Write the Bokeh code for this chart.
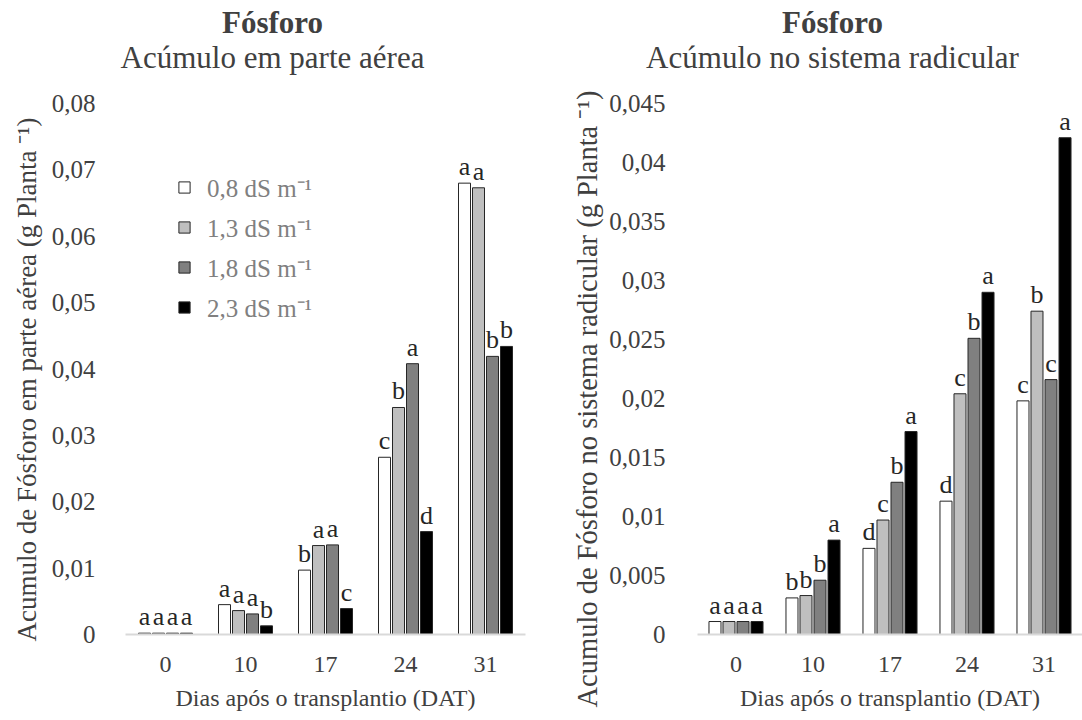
from bokeh.plotting import figure
from bokeh.models import FactorRange, Range1d, FixedTicker, Title, Label, ColumnDataSource
from bokeh.transform import dodge
from bokeh.layouts import row, column
from bokeh.embed import file_html
from bokeh.resources import INLINE
from bokeh.core.properties import value

# ---- data -------------------------------------------------------------
days = ["0", "10", "17", "24", "31"]
series_labels = ["0,8 dS m⁻¹", "1,3 dS m⁻¹", "1,8 dS m⁻¹", "2,3 dS m⁻¹"]

# shoot (parte aérea) phosphorus accumulation, g per plant
aerea_08 = [0.0002, 0.0045, 0.0097, 0.0267, 0.0680]
aerea_13 = [0.0002, 0.0036, 0.0134, 0.0342, 0.0673]
aerea_18 = [0.0002, 0.0031, 0.0135, 0.0408, 0.0419]
aerea_23 = [0.0002, 0.0013, 0.0039, 0.0155, 0.0434]
aerea_let_08 = ["a", "a", "b", "c", "a"]
aerea_let_13 = ["a", "a", "a", "b", "a"]
aerea_let_18 = ["a", "a", "a", "a", "b"]
aerea_let_23 = ["a", "b", "c", "d", "b"]

# root (sistema radicular) phosphorus accumulation, g per plant
radic_08 = [0.0011, 0.0031, 0.0073, 0.0113, 0.0198]
radic_13 = [0.0011, 0.0033, 0.0097, 0.0204, 0.0274]
radic_18 = [0.0011, 0.0046, 0.0129, 0.0251, 0.0216]
radic_23 = [0.0011, 0.0080, 0.0172, 0.0290, 0.0421]
radic_let_08 = ["a", "b", "d", "d", "c"]
radic_let_13 = ["a", "b", "c", "c", "b"]
radic_let_18 = ["a", "b", "b", "b", "c"]
radic_let_23 = ["a", "a", "a", "a", "a"]

aerea_ticks = ["0", "0,01", "0,02", "0,03", "0,04", "0,05", "0,06", "0,07", "0,08"]
radic_ticks = ["0", "0,005", "0,01", "0,015", "0,02", "0,025", "0,03", "0,035", "0,04", "0,045"]

# ---- style ------------------------------------------------------------
FONT = "Liberation Serif"
TXT = "#404040"
fills = ["#ffffff", "#bfbfbf", "#808080", "#000000"]
HEAD_H = 90      # height of the heading strip
CHART_H = 630    # height of each chart below it


def panel(width, left_border, right_border, top_border, bottom_border, ymax,
          tick_labels, series, letters, step, bar_w, tick_standoff,
          ylabel, ylabel_size, ylabel_offset, ylabel_standoff, with_legend):
    p = figure(width=width, height=CHART_H, output_backend="svg", toolbar_location=None,
               x_range=FactorRange(factors=days, range_padding=0),
               y_range=Range1d(0, ymax),
               min_border_left=left_border, min_border_right=right_border,
               min_border_top=top_border, min_border_bottom=bottom_border,
               background_fill_color="white", border_fill_color="white")
    p.outline_line_color = None
    p.xgrid.grid_line_color = None
    p.ygrid.grid_line_color = None

    data = {"day": days}
    for i, (vals, lets) in enumerate(zip(series, letters)):
        data[f"v{i}"] = vals
        data[f"l{i}"] = lets
    src = ColumnDataSource(data)

    offsets = [(-1.5 + i) * step for i in range(4)]
    for i in range(4):
        kw = {}
        if with_legend:
            kw["legend_label"] = series_labels[i]
        p.vbar(x=dodge("day", offsets[i], range=p.x_range), top=f"v{i}", width=bar_w,
               source=src, fill_color=fills[i], line_color="#262626", line_width=1, **kw)
        p.text(x=dodge("day", offsets[i], range=p.x_range), y=f"v{i}", text=f"l{i}",
               source=src, text_align="center", text_baseline="bottom", y_offset=-2,
               text_font=value(FONT), text_font_size="26px", text_color="#262626")

    tick_vals = [float(t.replace(",", ".")) for t in tick_labels]
    yax = p.yaxis[0]
    yax.ticker = FixedTicker(ticks=tick_vals)
    yax.major_label_overrides = dict(zip(tick_vals, tick_labels))
    yax.axis_line_color = None
    yax.major_tick_line_color = None
    yax.minor_tick_line_color = None
    yax.major_label_standoff = tick_standoff
    yax.major_label_text_font = FONT
    yax.major_label_text_font_size = "25px"
    yax.major_label_text_color = TXT

    xax = p.xaxis[0]
    xax.axis_line_color = "#d9d9d9"
    xax.axis_line_width = 2
    xax.major_tick_line_color = None
    xax.minor_tick_line_color = None
    xax.major_label_standoff = 16
    xax.major_label_text_font = FONT
    xax.major_label_text_font_size = "24px"
    xax.major_label_text_color = TXT
    xax.axis_label = "Dias após o transplantio (DAT)"
    xax.axis_label_text_font = FONT
    xax.axis_label_text_font_size = "24px"
    xax.axis_label_text_font_style = "normal"
    xax.axis_label_text_color = TXT
    xax.axis_label_standoff = 10

    # value-axis title, read bottom to top
    p.add_layout(Title(text=ylabel, align="left", offset=ylabel_offset, text_font=FONT,
                       text_font_size=ylabel_size, text_font_style="normal",
                       text_color=TXT, standoff=ylabel_standoff), "left")

    if with_legend:
        lg = p.legend[0]
        lg.location = (52, 310)
        lg.border_line_color = None
        lg.background_fill_alpha = 0
        lg.padding = 0
        lg.margin = 0
        lg.spacing = 6
        lg.glyph_width = 14
        lg.glyph_height = 14
        lg.label_standoff = 16
        lg.label_text_font = FONT
        lg.label_text_font_size = "25px"
        lg.label_text_color = "#808080"
        lg.label_height = 25
    return p


left = panel(560, 125, 35, 12, 86, 0.08, aerea_ticks,
             [aerea_08, aerea_13, aerea_18, aerea_23],
             [aerea_let_08, aerea_let_13, aerea_let_18, aerea_let_23],
             0.175, 0.15, 24,
             "Acumulo de Fósforo em parte aérea (g Planta ⁻¹)", "27px", -7, 14, True)

right = panel(522, 137, 0, 13, 85, 0.045, radic_ticks,
              [radic_08, radic_13, radic_18, radic_23],
              [radic_let_08, radic_let_13, radic_let_18, radic_let_23],
              0.182, 0.156, 26,
              "Acumulo de Fósforo no sistema radicular (g Planta ⁻¹)", "28.5px", -73, 8, False)

# heading strip: bold element name over each chart's subtitle
head = figure(width=1082, height=HEAD_H, output_backend="svg", toolbar_location=None,
              x_axis_type=None, y_axis_type=None, min_border=0,
              x_range=Range1d(0, 1082), y_range=Range1d(0, HEAD_H),
              background_fill_color="white", border_fill_color="white")
head.outline_line_color = None
head.xgrid.grid_line_color = None
head.ygrid.grid_line_color = None
for cx, sub in [(272, "Acúmulo em parte aérea"), (832, "Acúmulo no sistema radicular")]:
    head.add_layout(Label(x=cx, y=HEAD_H - 22, x_units="screen", y_units="screen",
                          text="Fósforo", text_align="center", text_baseline="middle",
                          text_font=FONT, text_font_size="31px", text_font_style="bold",
                          text_color=TXT))
    head.add_layout(Label(x=cx, y=HEAD_H - 57, x_units="screen", y_units="screen",
                          text=sub, text_align="center", text_baseline="middle",
                          text_font=FONT, text_font_size="31px", text_font_style="normal",
                          text_color=TXT))

layout = column(head, row(left, right), spacing=0)
open("out.html", "w").write(file_html(layout, INLINE))
